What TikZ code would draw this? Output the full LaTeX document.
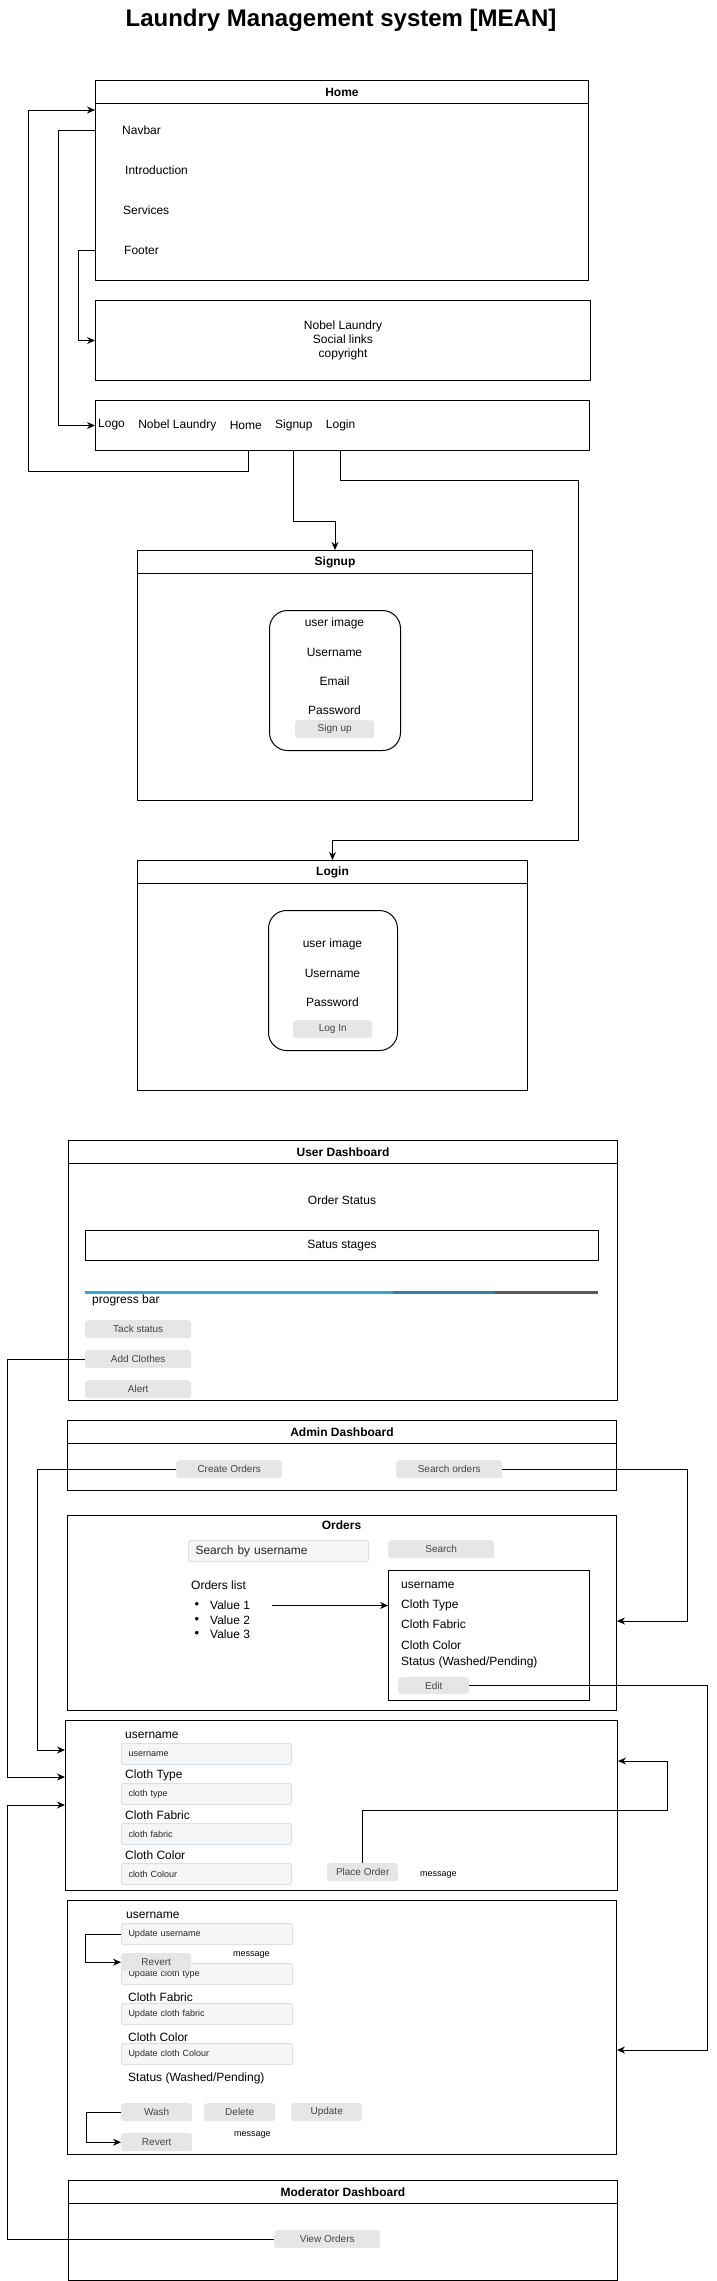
\documentclass[tikz,border=0pt]{standalone}
\usepackage{fontspec}
\setmainfont{Liberation Sans}
\usepackage{tikz}
\usetikzlibrary{arrows.meta}
\usetikzlibrary{calc}
\usetikzlibrary{positioning}
\usepackage{xcolor}
\definecolor{btnfill}{HTML}{E6E6E6}
\definecolor{btntext}{HTML}{444444}
\definecolor{fieldfill}{HTML}{F5F6F8}
\definecolor{fieldline}{HTML}{DCDFE3}
\definecolor{barblue}{HTML}{2FAADB}
\definecolor{bardark}{HTML}{357FA6}
\definecolor{bargray}{HTML}{5A5A5A}

\begin{document}
\begin{tikzpicture}[x=1pt, y=-1pt]
        % ================= styles =================
        \tikzset{
            % page frame and swimlane header
            panel/.style={draw=black, line width=1pt, anchor=north west, inner sep=0pt},
            lanehead/.style={panel, font=\bfseries\fontsize{12}{14}\selectfont},
            % plain text
            txt/.style={font=\fontsize{12}{14}\selectfont, inner sep=0pt},
            tiny_txt/.style={font=\fontsize{9}{11}\selectfont, inner sep=0pt},
            % grey mock-up buttons
            btn/.style={fill=btnfill, rounded corners=3pt, inner sep=0pt, anchor=north west,
                        font=\fontsize{10}{12}\selectfont, text=btntext},
            % input fields
            field/.style={fill=fieldfill, draw=fieldline, line width=1pt, rounded corners=2pt,
                          anchor=north west, minimum width=171pt, minimum height=21pt,
                          inner ysep=0pt, inner xsep=7pt, text width=157pt, align=left,
                          font=\fontsize{9}{11}\selectfont, text=black!85},
            % connectors
            link/.style={line width=1pt, -{Stealth[length=8pt, width=7pt]}}
        }
        \useasboundingbox (0,0) rectangle (716,2281);

        \node[font=\bfseries\fontsize{24}{28}\selectfont, inner sep=0pt] (title) at (341,20) {Laundry Management system [MEAN]};

        % ================= Home =================
        \node[lanehead, minimum width=493pt, minimum height=23pt] (homehead) at (95,80) {Home};
        \node[panel, minimum width=493pt, minimum height=177pt] (home) at (95,103) {};
        \foreach \nm/\lbl/\xx/\yy in {navbar/Navbar/122/130, intro/Introduction/125/170,
                                      services/Services/123/210, footer/Footer/124/250}
            \node[txt, anchor=west] (\nm) at (\xx,\yy) {\lbl};

        % footer section
        \node[panel, txt, minimum width=495pt, minimum height=80pt, align=center] (footbox) at (95,300)
            {Nobel Laundry\\Social links\\copyright};

        % navbar section
        \node[panel, minimum width=494pt, minimum height=50pt] (navbox) at (95,400) {};
        \node[txt, anchor=west] (logo) at (98,425) {Logo};
        \node[txt, right=13pt of logo] (brand) {Nobel Laundry};
        \node[txt, right=13pt of brand] (homelink) {Home};
        \node[txt, right=13pt of homelink] (signuplink) {Signup};
        \node[txt, right=13pt of signuplink] (loginlink) {Login};

        \draw[link] (home.west |- navbar.west) -- ++(-37,0) |- (navbox.west);
        \draw[link] (home.west |- footer.west) -- ++(-17,0) |- (footbox.west);
        \draw[link] ($(homelink |- navbox.south)+(3,0)$) -- ++(0,20) -- ++(-220,0) |- ($(home.north west)+(0,7)$);

        % ================= Signup =================
        \node[lanehead, minimum width=395pt, minimum height=23pt] (signuphead) at (137,550) {Signup};
        \node[panel, minimum width=395pt, minimum height=227pt] (signup) at (137,573) {};
        \node[panel, rounded corners=18pt, minimum width=131pt, minimum height=140pt] (signupcard) at (269,610) {};
        \foreach \lbl [count=\i] in {user image, Username, Email, Password}
            \node[txt] (su\i) at (334.5, {594+29*\i}) {\lbl};
        \node[btn, minimum width=79pt, minimum height=18pt] (signupbtn) at (295,720) {Sign up};

        \draw[link] (signuplink |- navbox.south) -- ++(0,70) -| (signuphead.north);

        % ================= Login =================
        \node[lanehead, minimum width=390pt, minimum height=23pt] (loginhead) at (137,860) {Login};
        \node[panel, minimum width=390pt, minimum height=207pt] (login) at (137,883) {};
        \node[panel, rounded corners=18pt, minimum width=129pt, minimum height=140pt] (logincard) at (268,910) {};
        \foreach \lbl [count=\i] in {user image, Username, Password}
            \node[txt] (li\i) at (332.5, {915+29*\i}) {\lbl};
        \node[btn, minimum width=79pt, minimum height=18pt] (loginbtn) at (293,1020) {Log In};

        \coordinate (loginturn) at (578,480);
        \draw[link] (loginlink |- navbox.south) |- (loginturn) |- ($(loginhead.north)+(0,-20)$) -- (loginhead.north);

        % ================= User Dashboard =================
        \node[lanehead, minimum width=549pt, minimum height=23pt] (userhead) at (68,1140) {User Dashboard};
        \node[panel, minimum width=549pt, minimum height=237pt] (user) at (68,1163) {};
        \node[txt] (orderstatus) at (342,1200) {Order Status};
        \node[panel, txt, minimum width=513pt, minimum height=30pt] (stages) at (85,1230) {Satus stages};
        \draw[line width=3pt, barblue] (85,1292) -- (393,1292);
        \draw[line width=3pt, bardark] (393,1292) -- (495,1292);
        \draw[line width=3pt, bargray] (495,1292) -- (598,1292);
        \node[txt, anchor=west] (progress) at (92,1300) {progress bar};
        \foreach \nm/\lbl/\yy in {track/Tack status/1320, addcloth/Add Clothes/1350, alert/Alert/1380}
            \node[btn, minimum width=106pt, minimum height=18pt] (\nm) at (85,\yy) {\lbl};

        % ================= Admin Dashboard =================
        \node[lanehead, minimum width=549pt, minimum height=23pt] (adminhead) at (67,1420) {Admin Dashboard};
        \node[panel, minimum width=549pt, minimum height=47pt] (admin) at (67,1443) {};
        \node[btn, minimum width=106pt, minimum height=18pt] (createord) at (176,1460) {Create Orders};
        \node[btn, minimum width=106pt, minimum height=18pt] (searchord) at (396,1460) {Search orders};

        % orders page
        \node[panel, minimum width=549pt, minimum height=195pt] (orders) at (67,1515) {};
        \node[txt, font=\bfseries\fontsize{12}{14}\selectfont] (ordershead) at (341.5,1525) {Orders};
        \node[field, minimum width=180pt, text width=166pt, font=\fontsize{12}{14}\selectfont] (searchbox) at (188,1540) {Search by username};
        \node[btn, minimum width=106pt, minimum height=18pt] (searchbtn) at (388,1540) {Search};
        \node[txt, anchor=west] (orderslist) at (191,1585) {Orders list};
        \foreach \i in {1,2,3} {
            \node[txt, font=\fontsize{13}{14}\selectfont] (dot\i) at (197, {1591+14.5*\i}) {\textbullet};
            \node[txt, anchor=west] (val\i) at (210, {1591+14.5*\i}) {Value \i};
        }
        \node[panel, minimum width=201pt, minimum height=130pt] (detail) at (388,1570) {};
        \foreach \nm/\lbl/\yy in {dname/username/1585, dtype/Cloth Type/1605, dfabric/Cloth Fabric/1624,
                                  dcolor/Cloth Color/1645, dstatus/{Status (Washed/Pending)}/1662}
            \node[txt, anchor=west] (\nm) at (401,\yy) {\lbl};
        \node[btn, minimum width=71pt, minimum height=17pt] (editbtn) at (398,1677) {Edit};

        \draw[link] ($(val1.east)+(22,0)$) -- (val1.east -| detail.west);
        \draw[link] (searchord.east) -- ++(185,0) |- ($(orders.north east)+(0,106)$);

        % add clothes form
        \node[panel, minimum width=552pt, minimum height=170pt] (addform) at (65,1720) {};
        \foreach \nm/\lbl/\hint/\yy in {aname/username/username/1735, atype/Cloth Type/cloth type/1775,
                                        afabric/Cloth Fabric/cloth fabric/1815, acolor/Cloth Color/cloth Colour/1855} {
            \node[txt, anchor=west] (\nm) at (125,\yy) {\lbl};
            \node[field, minimum width=170pt, text width=156pt] (\nm box) at (121,\yy+8) {\hint};
        }
        \node[btn, minimum width=71pt, minimum height=18pt] (placeorder) at (327,1863) {Place Order};
        \node[tiny_txt, anchor=west] (addmsg) at (420,1875) {message};

        \draw[link] (createord.west) -- ++(-139,0) |- ($(addform.north west)+(0,30)$);
        \draw[link] (addcloth.west) -- ++(-78,0) |- ($(addform.north west)+(0,57)$);
        \draw[link] (placeorder.north) -- ++(0,-53) -- ++(305,0) |- ($(addform.north east)+(0,41)$);

        % update order form
        \node[panel, minimum width=549pt, minimum height=254pt] (update) at (67,1900) {};
        \node[txt, anchor=west] (uname) at (126,1915) {username};
        \node[field] (unamebox) at (121,1923) {Update username};
        \node[tiny_txt, anchor=west] (umsg) at (233,1955) {message};
        \node[field] (utypebox) at (121,1963) {Update cloth type};
        \node[btn, minimum width=70pt, minimum height=18pt] (revert) at (121,1953) {Revert};
        \node[txt, anchor=west] (ufabric) at (128,1997) {Cloth Fabric};
        \node[field] (ufabricbox) at (121,2003) {Update cloth fabric};
        \node[txt, anchor=west] (ucolor) at (128,2037) {Cloth Color};
        \node[field] (ucolorbox) at (121,2043) {Update cloth Colour};
        \node[txt, anchor=west] (ustatus) at (128,2078) {Status (Washed/Pending)};
        \foreach \nm/\lbl/\xx in {wash/Wash/121, delete/Delete/204, updatebtn/Update/291}
            \node[btn, minimum width=71pt, minimum height=18pt] (\nm) at (\xx,2103) {\lbl};
        \node[btn, minimum width=71pt, minimum height=18pt] (revertb) at (121,2133) {Revert};
        \node[tiny_txt, anchor=west] (umsgb) at (234,2135) {message};

        \draw[link] (unamebox.west) -- ++(-36,0) |- (revert.west);
        \draw[link] (wash.west) -- ++(-35,0) |- (revertb.west);
        \draw[link] (editbtn.east) -- ++(238,0) |- ($(update.north east)+(0,150)$);

        % ================= Moderator Dashboard =================
        \node[lanehead, minimum width=549pt, minimum height=23pt] (modhead) at (68,2180) {Moderator Dashboard};
        \node[panel, minimum width=549pt, minimum height=77pt] (mod) at (68,2203) {};
        \node[btn, minimum width=106pt, minimum height=18pt] (vieworders) at (274,2230) {View Orders};

        \draw[link] (vieworders.west) -- ++(-267,0) |- ($(addform.north west)+(0,85)$);

    \end{tikzpicture}
\end{document}
